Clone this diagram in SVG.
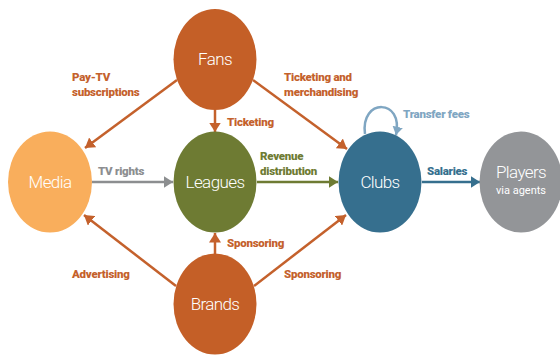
<svg xmlns="http://www.w3.org/2000/svg" width="560" height="356" viewBox="0 0 560 356">
  <style>
    .node-label { font-family: Roboto, "Liberation Sans", sans-serif; font-weight: 300; font-size: 17px; letter-spacing: -0.6px; fill: #ffffff; text-anchor: middle; }
    .sub-label { font-family: Roboto, "Liberation Sans", sans-serif; font-weight: 400; font-size: 11px; fill: #ffffff; text-anchor: middle; }
    .edge-label { font-family: Roboto, "Liberation Sans", sans-serif; font-weight: 900; font-size: 11.5px; letter-spacing: -0.25px; }
    .orange { fill: #c4612c; }
    .gray { fill: #8c8e90; }
    .green { fill: #6e7b33; }
    .blue { fill: #366f8e; }
    .lightblue { fill: #7fa6c2; }
    .line { fill: none; stroke-width: 2.5; }
  </style>
  <defs>
    <marker id="ah-orange" viewBox="0 0 10 10" refX="10" refY="5" markerWidth="3.8" markerHeight="4.8" orient="auto" markerUnits="strokeWidth" preserveAspectRatio="none">
      <path d="M0 0 L10 5 L0 10 z" fill="#c4612c"/>
    </marker>
    <marker id="ah-gray" viewBox="0 0 10 10" refX="10" refY="5" markerWidth="3.8" markerHeight="4.8" orient="auto" markerUnits="strokeWidth" preserveAspectRatio="none">
      <path d="M0 0 L10 5 L0 10 z" fill="#8c8e90"/>
    </marker>
    <marker id="ah-green" viewBox="0 0 10 10" refX="10" refY="5" markerWidth="3.8" markerHeight="4.8" orient="auto" markerUnits="strokeWidth" preserveAspectRatio="none">
      <path d="M0 0 L10 5 L0 10 z" fill="#6e7b33"/>
    </marker>
    <marker id="ah-blue" viewBox="0 0 10 10" refX="10" refY="5" markerWidth="3.8" markerHeight="4.8" orient="auto" markerUnits="strokeWidth" preserveAspectRatio="none">
      <path d="M0 0 L10 5 L0 10 z" fill="#366f8e"/>
    </marker>
    <marker id="ah-lightblue" viewBox="0 0 10 10" refX="10" refY="5" markerWidth="3.3" markerHeight="4.2" orient="auto" markerUnits="strokeWidth" preserveAspectRatio="none">
      <path d="M0 0 L10 5 L0 10 z" fill="#7fa6c2"/>
    </marker>
  </defs>

  <rect width="560" height="356" fill="#ffffff"/>

  <!-- connectors -->
  <g id="connectors">
    <line class="line" x1="177" y1="80" x2="85" y2="148" stroke="#c4612c" marker-end="url(#ah-orange)"/>
    <line class="line" x1="215" y1="110" x2="215" y2="132" stroke="#c4612c" marker-end="url(#ah-orange)"/>
    <line class="line" x1="253" y1="80" x2="347" y2="149" stroke="#c4612c" marker-end="url(#ah-orange)"/>
    <line class="line" x1="92" y1="182" x2="173" y2="182" stroke="#8c8e90" marker-end="url(#ah-gray)"/>
    <line class="line" x1="257" y1="182" x2="338" y2="182" stroke="#6e7b33" marker-end="url(#ah-green)"/>
    <line class="line" x1="422" y1="182" x2="480" y2="182" stroke="#366f8e" marker-end="url(#ah-blue)"/>
    <line class="line" x1="176" y1="286" x2="84" y2="215" stroke="#c4612c" marker-end="url(#ah-orange)"/>
    <line class="line" x1="215" y1="254" x2="215" y2="233" stroke="#c4612c" marker-end="url(#ah-orange)"/>
    <line class="line" x1="254" y1="286" x2="346" y2="215" stroke="#c4612c" marker-end="url(#ah-orange)"/>
    <path class="line" d="M365 134 C360 98 404 98 396 135" stroke="#7fa6c2" stroke-width="3" marker-end="url(#ah-lightblue)"/>
  </g>

  <!-- nodes -->
  <g id="fans">
    <ellipse cx="215" cy="59.5" rx="41.5" ry="50.5" fill="#c45f27"/>
    <text class="node-label" x="215" y="65">Fans</text>
  </g>
  <g id="media">
    <ellipse cx="50" cy="182" rx="42" ry="50.5" fill="#f9ae5c"/>
    <text class="node-label" x="50" y="188">Media</text>
  </g>
  <g id="leagues">
    <ellipse cx="215" cy="182" rx="41.5" ry="50.5" fill="#6e7b33"/>
    <text class="node-label" x="215" y="188">Leagues</text>
  </g>
  <g id="clubs">
    <ellipse cx="380" cy="182" rx="41.5" ry="50.5" fill="#366f8e"/>
    <text class="node-label" x="380" y="188">Clubs</text>
  </g>
  <g id="players">
    <ellipse cx="521" cy="182" rx="41.5" ry="50.5" fill="#939598"/>
    <text class="node-label" x="521" y="178">Players</text>
    <text class="sub-label" x="521" y="194">via agents</text>
  </g>
  <g id="brands">
    <ellipse cx="215" cy="304" rx="41.5" ry="50.5" fill="#c45f27"/>
    <text class="node-label" x="215" y="310">Brands</text>
  </g>

  <!-- connector labels -->
  <g id="labels">
    <text class="edge-label orange" x="72" y="81">Pay-TV</text>
    <text class="edge-label orange" x="72" y="96">subscriptions</text>
    <text class="edge-label orange" x="227" y="126">Ticketing</text>
    <text class="edge-label orange" x="284" y="81">Ticketing and</text>
    <text class="edge-label orange" x="284" y="96">merchandising</text>
    <text class="edge-label lightblue" x="403" y="118">Transfer fees</text>
    <text class="edge-label gray" x="98" y="175">TV rights</text>
    <text class="edge-label green" x="260" y="160">Revenue</text>
    <text class="edge-label green" x="260" y="175">distribution</text>
    <text class="edge-label blue" x="427" y="175">Salaries</text>
    <text class="edge-label orange" x="227" y="247">Sponsoring</text>
    <text class="edge-label orange" x="72" y="278">Advertising</text>
    <text class="edge-label orange" x="284" y="278">Sponsoring</text>
  </g>
</svg>
